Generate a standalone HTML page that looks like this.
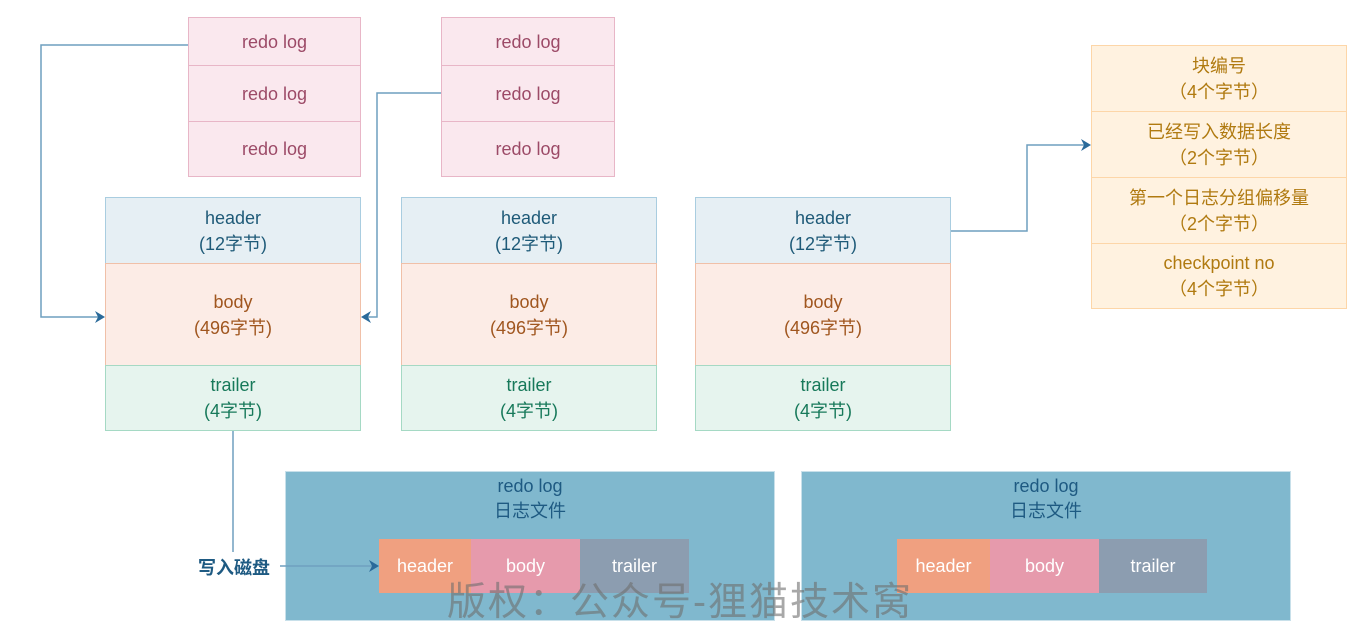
<!DOCTYPE html>
<html><head><meta charset="utf-8"><style>
body{margin:0;width:1364px;height:632px;background:#fff;position:relative;overflow:hidden;font-family:"Liberation Sans","Noto Sans CJK SC",sans-serif;}
.b{position:absolute;box-sizing:border-box;display:flex;flex-direction:column;align-items:center;justify-content:center;text-align:center;font-size:18px;line-height:26px;}
.p{background:#fae8ee;border:1.5px solid #e8b6c7;color:#9c4a67;}
.h{background:#e6eff4;border:1.5px solid #a9cde0;color:#1e5a78;}
.y{background:#fcece6;border:1.5px solid #f0c0a8;color:#a0561f;}
.t{background:#e6f4ee;border:1.5px solid #a5d9c4;color:#17795a;}
.o{background:#fff2e0;border:1.5px solid #fdd6a8;color:#b07a10;}
.pan{position:absolute;background:#80b8ce;border:1px solid #c8e0ea;color:#1e5a82;font-size:18px;line-height:25px;text-align:center;box-sizing:border-box;padding-top:2px;}
.in{position:absolute;color:#fff;font-size:18px;display:flex;align-items:center;justify-content:center;}
</style></head><body>
<div class="b p" style="left:188px;top:17px;width:173px;height:49px">redo log</div>
<div class="b p" style="left:188px;top:65px;width:173px;height:57px">redo log</div>
<div class="b p" style="left:188px;top:121px;width:173px;height:56px">redo log</div>
<div class="b p" style="left:441px;top:17px;width:174px;height:49px">redo log</div>
<div class="b p" style="left:441px;top:65px;width:174px;height:57px">redo log</div>
<div class="b p" style="left:441px;top:121px;width:174px;height:56px">redo log</div>

<div class="b h" style="left:105px;top:197px;width:256px;height:67px">header<br>(12字节)</div>
<div class="b y" style="left:105px;top:263px;width:256px;height:103px">body<br>(496字节)</div>
<div class="b t" style="left:105px;top:365px;width:256px;height:66px">trailer<br>(4字节)</div>
<div class="b h" style="left:401px;top:197px;width:256px;height:67px">header<br>(12字节)</div>
<div class="b y" style="left:401px;top:263px;width:256px;height:103px">body<br>(496字节)</div>
<div class="b t" style="left:401px;top:365px;width:256px;height:66px">trailer<br>(4字节)</div>
<div class="b h" style="left:695px;top:197px;width:256px;height:67px">header<br>(12字节)</div>
<div class="b y" style="left:695px;top:263px;width:256px;height:103px">body<br>(496字节)</div>
<div class="b t" style="left:695px;top:365px;width:256px;height:66px">trailer<br>(4字节)</div>

<div class="b o" style="left:1091px;top:45px;width:256px;height:67px">块编号<br>（4个字节）</div>
<div class="b o" style="left:1091px;top:111px;width:256px;height:67px">已经写入数据长度<br>（2个字节）</div>
<div class="b o" style="left:1091px;top:177px;width:256px;height:67px">第一个日志分组偏移量<br>（2个字节）</div>
<div class="b o" style="left:1091px;top:243px;width:256px;height:66px">checkpoint no<br>（4个字节）</div>

<div class="pan" style="left:285px;top:471px;width:490px;height:150px">redo log<br>日志文件</div>
<div class="in" style="left:379px;top:539px;width:92px;height:54px;background:#f0a080">header</div>
<div class="in" style="left:471px;top:539px;width:109px;height:54px;background:#e69aac">body</div>
<div class="in" style="left:580px;top:539px;width:109px;height:54px;background:#8c9db0">trailer</div>
<div class="pan" style="left:801px;top:471px;width:490px;height:150px">redo log<br>日志文件</div>
<div class="in" style="left:897px;top:539px;width:93px;height:54px;background:#f0a080">header</div>
<div class="in" style="left:990px;top:539px;width:109px;height:54px;background:#e69aac">body</div>
<div class="in" style="left:1099px;top:539px;width:108px;height:54px;background:#8c9db0">trailer</div>

<div style="position:absolute;left:198px;top:554px;font-size:18px;color:#1e5a82;font-weight:bold">写入磁盘</div>

<svg width="1364" height="632" style="position:absolute;left:0;top:0" fill="none">
<g stroke="#6f9fbf" stroke-width="1.5">
<polyline points="188,45 41,45 41,317 98,317"/>
<polyline points="441,93 377,93 377,317 368,317"/>
<polyline points="951,231 1027,231 1027,145 1084,145"/>
<polyline points="233,431 233,552"/>
<polyline points="280,566 372,566"/>
</g>
<g fill="#2a6a9a">
<polygon points="105,317 95,311 98,317 95,323"/>
<polygon points="361,317 371,311 368,317 371,323"/>
<polygon points="1091,145 1081,139 1084,145 1081,151"/>
<polygon points="379,566 369,560 372,566 369,572"/>
</g>
</svg>
<div style="position:absolute;left:447px;top:571px;font-size:39px;color:rgba(110,110,110,0.6);letter-spacing:2px;white-space:nowrap">版权：公众号-狸猫技术窝</div>
</body></html>
